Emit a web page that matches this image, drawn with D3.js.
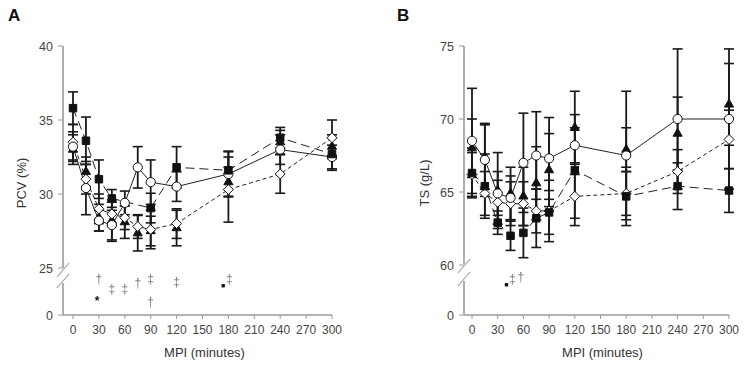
<!DOCTYPE html>
<html>
<head>
<meta charset="utf-8">
<script src="https://cdn.jsdelivr.net/npm/d3@7"></script>
<style>
  html, body { margin: 0; padding: 0; background: #fff; }
  svg { display: block; }
  text { font-family: "Liberation Sans", Arial, sans-serif; }
  .marks { filter: grayscale(1); }
</style>
</head>
<body>
<svg id="chart" width="745" height="368"></svg>
<script>
// ---------------- DATA ----------------
const times = [0, 15, 30, 45, 60, 75, 90, 120, 180, 240, 300];
const xTicks = [0, 30, 60, 90, 120, 150, 180, 210, 240, 270, 300];

// Panel A: PCV (%)
const pcvSquare      = [35.8, 33.6, 31.0, 29.7, null, null, 29.05, 31.8, 31.6, 33.8, 32.7];
const pcvSquareErr   = [1.1, 1.6, 1.3, 0.6, null, null, 1.0, 1.4, 1.3, 0.7, 1.1];
const pcvCircle      = [33.2, 30.4, 28.2, 27.9, 29.4, 31.8, 30.8, 30.5, 31.35, 33.0, 32.5];
const pcvCircleErr   = [1.0, 1.8, 0.7, 1.0, 0.8, 1.4, 1.5, 1.0, 1.5, 1.0, 0.8];
const pcvTriangle    = [33.0, 31.5, 28.4, 28.2, 28.1, 27.35, 27.5, 27.7, 30.8, 33.5, 33.2];
const pcvTriangleErr = [1.0, 1.0, 0.9, 1.4, 1.1, 1.2, 1.0, 1.2, 1.0, 0.8, 0.8];
const pcvDiamond     = [33.5, 31.0, 29.0, 28.65, 28.4, 27.8, 27.6, 28.0, 30.3, 31.35, 33.8];
const pcvDiamondErr  = [1.2, 1.0, 1.0, 0.8, 0.8, 0.8, 1.3, 1.0, 2.2, 1.3, 1.2];
const pcvTicks = [0, 25, 30, 35, 40];

// Panel B: TS (g/L)
const tsSquare      = [66.3, 65.4, 62.9, 62.0, 62.2, 63.2, 63.6, 66.5, 64.7, 65.4, 65.1];
const tsSquareErr   = [1.7, 2.2, 0.8, 1.0, 1.7, 2.0, 1.5, 3.8, 2.0, 1.6, 1.5];
const tsCircle      = [68.5, 67.2, 64.9, 64.6, 67.0, 67.5, 67.3, 68.2, 67.5, 70.0, 70.0];
const tsCircleErr   = [3.6, 2.5, 1.5, 1.5, 3.4, 3.0, 2.8, 1.2, 4.4, 4.8, 4.8];
const tsTriangle    = [68.0, 67.4, 65.1, 64.9, 64.7, 65.6, 66.5, 69.4, 67.9, 69.0, 71.0];
const tsTriangleErr = [2.0, 2.2, 2.6, 1.8, 2.0, 2.5, 2.5, 2.5, 1.5, 2.5, 2.8];
const tsDiamond     = [66.2, 64.9, 64.3, 64.2, 64.2, 63.7, 63.7, 64.7, 64.9, 66.4, 68.6];
const tsDiamondErr  = [1.5, 1.5, 1.5, 1.5, 1.5, 1.5, 2.1, 1.5, 1.5, 1.5, 2.0];
const tsTicks = [0, 60, 65, 70, 75];

// significance annotations (time, row, symbol, colour)
const pcvMarks = [
  {t: 30, row: 0, s: "†", c: "#777"},
  {t: 45, row: 1, s: "‡", c: "#777"},
  {t: 60, row: 1, s: "‡", c: "#777"},
  {t: 75, row: 0.4, s: "†", c: "#777"},
  {t: 90, row: 0, s: "‡", c: "#777"},
  {t: 90, row: 2.3, s: "†", c: "#777"},
  {t: 120, row: 0.3, s: "‡", c: "#777"},
  {t: 174, row: 0.5, s: "■", c: "#111"},
  {t: 181, row: 0, s: "‡", c: "#777"},
  {t: 28, row: 2.2, s: "*", c: "#111"}
];
const tsMarks = [
  {t: 40, row: 0.4, s: "■", c: "#111"},
  {t: 47, row: 0, s: "‡", c: "#777"},
  {t: 57, row: -0.2, s: "†", c: "#777"}
];

// ---------------- DRAW ----------------
const svg = d3.select("#chart");

function diamondPath(r) {
  return `M0,${-r}L${r},0L0,${r}L${-r},0Z`;
}

function panel(cfg) {
  const g = svg.append("g");
  const x = d3.scaleLinear().domain([0, 300]).range(cfg.xRange);
  const y = d3.scaleLinear().domain(cfg.yDomain).range(cfg.yRange);
  const ax = cfg.axisX, base = cfg.yRange[0];

  const axisCol = "#9a9a9a";
  g.append("line").attr("x1", ax).attr("x2", ax)
    .attr("y1", y(cfg.yDomain[3])).attr("y2", cfg.breakTop)
    .attr("stroke", axisCol).attr("stroke-width", 1.6);
  g.append("line").attr("x1", ax).attr("x2", ax)
    .attr("y1", cfg.breakBottom).attr("y2", base)
    .attr("stroke", axisCol).attr("stroke-width", 1.6);
  [cfg.breakTop + 2, cfg.breakBottom - 2].forEach(yy => {
    g.append("line").attr("x1", ax - 6).attr("y1", yy + 7)
      .attr("x2", ax + 6).attr("y2", yy - 7)
      .attr("stroke", axisCol).attr("stroke-width", 1.1);
  });
  cfg.yTicks.forEach(v => {
    g.append("line").attr("x1", ax - 5).attr("x2", ax)
      .attr("y1", y(v)).attr("y2", y(v))
      .attr("stroke", axisCol).attr("stroke-width", 1);
    g.append("text").attr("x", ax - 10).attr("y", y(v) + 4.5)
      .attr("text-anchor", "end").attr("font-size", 12.5).attr("fill", "#444")
      .text(v);
  });
  g.append("line").attr("x1", ax).attr("x2", x(300))
    .attr("y1", base).attr("y2", base)
    .attr("stroke", axisCol).attr("stroke-width", 1.4);
  xTicks.forEach(v => {
    g.append("line").attr("x1", x(v)).attr("x2", x(v))
      .attr("y1", base).attr("y2", base + 4)
      .attr("stroke", axisCol).attr("stroke-width", 1);
    g.append("text").attr("x", x(v)).attr("y", base + 19)
      .attr("text-anchor", "middle").attr("font-size", 12).attr("fill", "#444")
      .text(v);
  });
  g.append("text").attr("x", (x(0) + x(300)) / 2 + 2).attr("y", base + 42)
    .attr("text-anchor", "middle").attr("font-size", 13).attr("fill", "#333")
    .text("MPI (minutes)");
  g.append("text")
    .attr("transform", `translate(${cfg.yLabelX},${cfg.yLabelY}) rotate(-90)`)
    .attr("text-anchor", "middle").attr("font-size", 13).attr("fill", "#333")
    .text(cfg.yLabel);
  g.append("text").attr("x", cfg.letterX).attr("y", 21)
    .attr("font-size", 17).attr("font-weight", "bold").attr("fill", "#111")
    .text(cfg.letter);

  const series = cfg.series;
  series.forEach(s => {
    s.vals.forEach((v, i) => {
      if (v == null) return;
      const e = s.errs[i];
      const cx = x(times[i]);
      g.append("line").attr("x1", cx).attr("x2", cx)
        .attr("y1", y(v - e)).attr("y2", y(v + e))
        .attr("stroke", "#1a1a1a").attr("stroke-width", 1.8);
      [v - e, v + e].forEach(w => {
        g.append("line").attr("x1", cx - 5).attr("x2", cx + 5)
          .attr("y1", y(w)).attr("y2", y(w))
          .attr("stroke", "#1a1a1a").attr("stroke-width", 1.6);
      });
    });
  });
  series.forEach(s => {
    if (s.dash == null) return;
    const pts = times.map((t, i) => [t, s.vals[i]]).filter(d => d[1] != null);
    const line = d3.line().x(d => x(d[0])).y(d => y(d[1]));
    g.append("path").attr("d", line(pts)).attr("fill", "none")
      .attr("stroke", "#222").attr("stroke-width", 1)
      .attr("stroke-dasharray", s.dash || null);
  });
  series.forEach(s => {
    s.vals.forEach((v, i) => {
      if (v == null) return;
      const cx = x(times[i]), cy = y(v);
      let p;
      if (s.shape === "square") {
        p = d3.symbol().type(d3.symbolSquare).size(56)();
      } else if (s.shape === "circle") {
        p = d3.symbol().type(d3.symbolCircle).size(66)();
      } else if (s.shape === "triangle") {
        p = d3.symbol().type(d3.symbolTriangle).size(36)();
      } else {
        p = diamondPath(5);
      }
      g.append("path").attr("d", p)
        .attr("transform", `translate(${cx},${cy})`)
        .attr("fill", s.fill).attr("stroke", "#111").attr("stroke-width", 1);
    });
  });

  // annotations
  const ag = g.append("g").attr("class", "marks");
  cfg.marks.forEach(m => {
    ag.append("text").attr("x", x(m.t)).attr("y", cfg.markY + m.row * 10)
      .attr("text-anchor", "middle")
      .attr("font-family", "DejaVu Sans, sans-serif")
      .attr("font-size", m.s === "■" ? 7 : 12)
      .attr("font-weight", m.s === "*" ? "bold" : "normal")
      .attr("fill", m.c).text(m.s);
  });
}

panel({
  letter: "A", letterX: 8,
  xRange: [73, 332], axisX: 63,
  yDomain: [0, 22, 25, 40], yRange: [315, 282, 268, 46],
  breakTop: 268, breakBottom: 283,
  yTicks: pcvTicks, yLabel: "PCV (%)", yLabelX: 26, yLabelY: 183,
  markY: 283,
  marks: pcvMarks,
  series: [
    {vals: pcvTriangle, errs: pcvTriangleErr, shape: "triangle", fill: "#111", dash: null},
    {vals: pcvDiamond, errs: pcvDiamondErr, shape: "diamond", fill: "#fff", dash: "4,3"},
    {vals: pcvCircle, errs: pcvCircleErr, shape: "circle", fill: "#fff", dash: ""},
    {vals: pcvSquare, errs: pcvSquareErr, shape: "square", fill: "#111", dash: "9,5"}
  ]
});

panel({
  letter: "B", letterX: 397,
  xRange: [472, 729], axisX: 464,
  yDomain: [0, 57, 60, 75], yRange: [315, 280, 265, 46],
  breakTop: 264, breakBottom: 281,
  yTicks: tsTicks, yLabel: "TS (g/L)", yLabelX: 429, yLabelY: 183,
  markY: 283,
  marks: tsMarks,
  series: [
    {vals: tsTriangle, errs: tsTriangleErr, shape: "triangle", fill: "#111", dash: null},
    {vals: tsDiamond, errs: tsDiamondErr, shape: "diamond", fill: "#fff", dash: "4,3"},
    {vals: tsCircle, errs: tsCircleErr, shape: "circle", fill: "#fff", dash: ""},
    {vals: tsSquare, errs: tsSquareErr, shape: "square", fill: "#111", dash: "9,5"}
  ]
});
</script>
</body>
</html>
